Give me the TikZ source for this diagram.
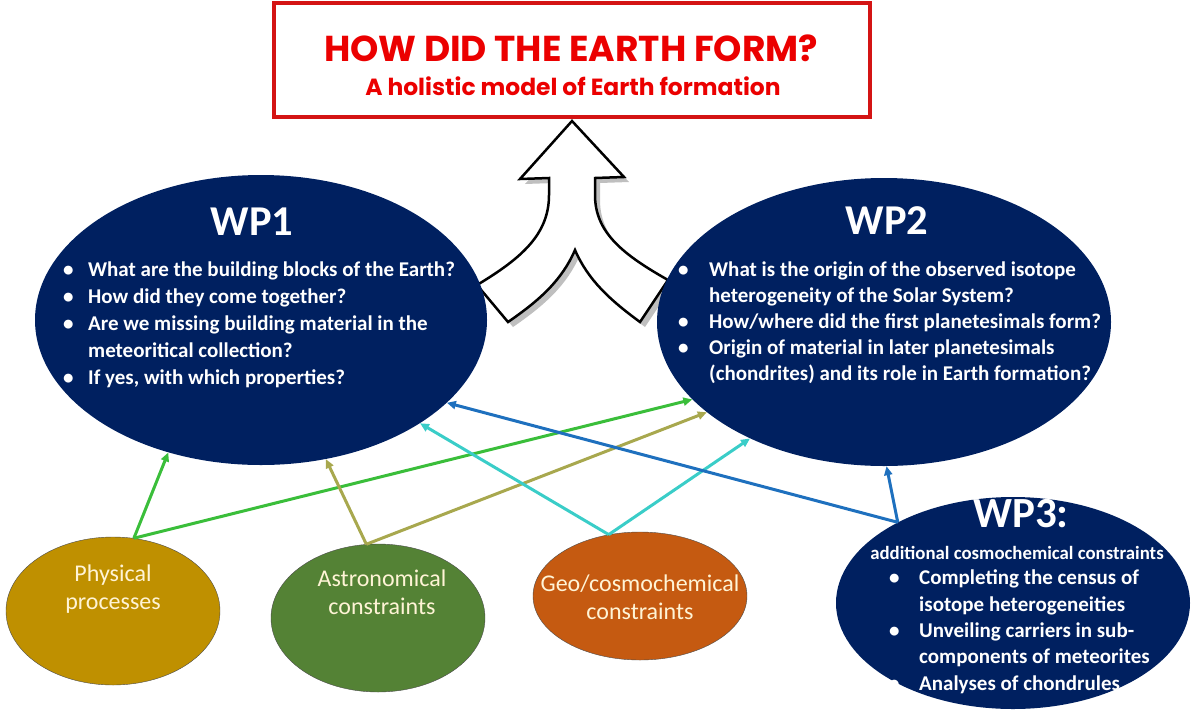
\documentclass[tikz,border=0pt]{standalone}
\usepackage{fontspec}
\setmainfont{Carlito}
\newfontfamily\headfont{Poppins}
\usepackage{tikz}
\usetikzlibrary{arrows.meta, shapes.geometric}
\usepackage{xcolor}
\definecolor{wpNavy}{RGB}{0, 32, 96}
\definecolor{physCol}{RGB}{191, 144, 0}
\definecolor{astroCol}{RGB}{84, 130, 53}
\definecolor{geoCol}{RGB}{197, 90, 17}
\definecolor{cream}{RGB}{255, 244, 214}
\definecolor{titleRed}{RGB}{235, 0, 0}
\definecolor{boxRed}{RGB}{212, 20, 20}
\definecolor{arrGreen}{RGB}{58, 190, 58}
\definecolor{arrOlive}{RGB}{168, 168, 78}
\definecolor{arrCyan}{RGB}{58, 205, 200}
\definecolor{arrBlue}{RGB}{30, 112, 190}
\newcommand{\bitem}[2][25pt]{\makebox[#1][l]{\textbullet}#2}
\newcommand{\bcont}[2][25pt]{\hspace*{#1}#2}

\begin{document}
\begin{tikzpicture}[x=1pt, y=-1pt, >={Triangle[length=9pt, width=8pt]},
  wpell/.style={ellipse, fill=wpNavy, inner sep=0pt},
  srcell/.style={ellipse, draw=black!70, thin, inner sep=0pt, minimum width=214pt},
  srctext/.style={text=cream, align=center, inner sep=0pt,
    font=\fontsize{24}{28}\selectfont},
  wphead/.style={text=white, font=\bfseries\fontsize{42.5}{42.5}\selectfont, inner sep=0pt},
  wplist/.style={text=white, align=left, anchor=north west, inner sep=0pt},
  arrowshadow/.style={fill=black!25, draw=none},
  arrowbody/.style={fill=white, draw=black, line width=2.5pt, line join=miter},
  link/.style={->, line width=3pt}]
  \useasboundingbox (0,0) rectangle (1191,713);

  % Question box
  \node[draw=boxRed, line width=3.5pt, minimum width=596pt, minimum height=114pt] (goal) at (572,60) {};
  \node[text=titleRed, inner sep=0pt, font=\headfont\bfseries\fontsize{36}{36}\selectfont] (goaltitle) at (571,48) {HOW DID THE EARTH FORM?};
  \node[text=titleRed, inner sep=0pt, font=\headfont\bfseries\fontsize{23.4}{23.4}\selectfont] (goalsub) at (573,86) {A holistic model of Earth formation};

  % Merging arrow (shadow first)
  \foreach \dx/\sty in {5/arrowshadow, 0/arrowbody}{
    \path[\sty, shift={(\dx,\dx)}]
      (572,121) -- (624,177) -- (595,178) -- (595,195)
      .. controls (595,232) and (622,254) .. (668,280) -- (640,322)
      .. controls (610,300) and (588,280) .. (575,250)
      .. controls (562,280) and (540,300) .. (508,322) -- (477,285)
      .. controls (522,258) and (549,234) .. (549,195) -- (549,178)
      -- (520,179) -- cycle;
  }

  % Work packages
  \node[wpell, minimum width=452pt, minimum height=290pt] (wp1) at (261,320) {};
  \node[wpell, minimum width=454pt, minimum height=288pt] (wp2) at (884,322) {};
  \node[wpell, minimum width=354pt, minimum height=212pt] (wp3) at (1013,603) {};

  \node[wphead] (wp1head) at (252,222) {WP1};
  \node[wphead] (wp2head) at (887,221) {WP2};
  \node[wphead, font=\bfseries\fontsize{43}{43}\selectfont] (wp3head) at (1021,514) {WP3:};

  \node[wplist, font=\bfseries\fontsize{21}{27}\selectfont] (wp1list) at (63,262) {%
    \bitem{What are the building blocks of the Earth?}\\
    \bitem{How did they come together?}\\
    \bitem{Are we missing building material in the}\\
    \bcont{meteoritical collection?}\\
    \bitem{If yes, with which properties?}};
  \node[wplist, font=\bfseries\fontsize{21}{25.8}\selectfont] (wp2list) at (678,262) {%
    \bitem[31pt]{What is the origin of the observed isotope}\\
    \bcont[31pt]{heterogeneity of the Solar System?}\\
    \bitem[31pt]{How/where did the first planetesimals form?}\\
    \bitem[31pt]{Origin of material in later planetesimals}\\
    \bcont[31pt]{(chondrites) and its role in Earth formation?}};
  \node[text=white, inner sep=0pt, font=\bfseries\fontsize{18.8}{18.8}\selectfont] (wp3sub) at (1017,553) {additional cosmochemical constraints};
  \node[wplist, font=\bfseries\fontsize{21}{26.3}\selectfont] (wp3list) at (889,570) {%
    \bitem[30pt]{Completing the census of}\\
    \bcont[30pt]{isotope heterogeneities}\\
    \bitem[30pt]{Unveiling carriers in sub-}\\
    \bcont[30pt]{components of meteorites}\\
    \bitem[30pt]{Analyses of chondrules}};

  % Constraint sources
  \node[srcell, fill=physCol, minimum height=148pt] (phys) at (113,611) {};
  \node[srcell, fill=astroCol, minimum height=148pt] (astro) at (378,618) {};
  \node[srcell, fill=geoCol, minimum height=128pt] (geo) at (640,596) {};
  \node[srctext] (physlabel) at (113,589) {Physical\\processes};
  \node[srctext] (astrolabel) at (382,592) {Astronomical\\constraints};
  \node[srctext] (geolabel) at (640,597) {Geo/cosmochemical\\constraints};

  % Links
  \draw[link, arrGreen] (phys.74) -- (wp1.235);
  \draw[link, arrGreen] (phys.74) -- (wp2.202);
  \draw[link, arrOlive] (astro.99) -- (wp1.-65);
  \draw[link, arrOlive] (astro.99) -- (wp2.207);
  \draw[link, arrCyan] (geo.117) -- (wp1.-33);
  \draw[link, arrCyan] (geo.117) -- (wp2.221);
  \draw[link, arrBlue] (wp3.145) -- (wp1.-24);
  \draw[link, arrBlue] (wp3.145) -- (wp2.-89);
\end{tikzpicture}
\end{document}
